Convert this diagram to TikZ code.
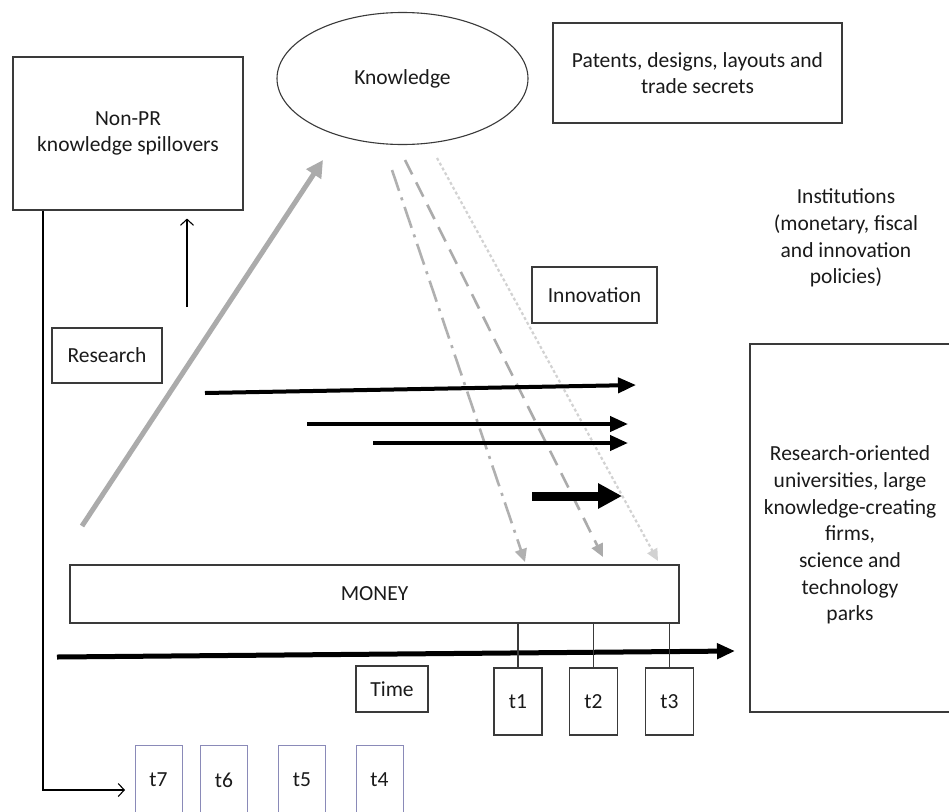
\documentclass[tikz,border=0pt]{standalone}
\usepackage{fontspec}
\setmainfont{Carlito}
\usetikzlibrary{arrows.meta,shapes.geometric}
\definecolor{boxline}{HTML}{3A3A3A}
\definecolor{txt}{HTML}{1A1A1A}
\definecolor{bluebox}{HTML}{8A8AB8}
\definecolor{gthick}{HTML}{ABABAB}
\definecolor{gdash}{HTML}{B0B0B0}
\definecolor{gdot}{HTML}{D2D2D2}
\begin{document}
\begin{tikzpicture}[x=1pt,y=-1pt,
  lbl/.style={font=\fontsize{21.5}{26.7}\selectfont, text=txt, align=center},
  box/.style={lbl, draw=boxline, line width=1.1pt, inner sep=0pt},
  tbox/.style={box, minimum width=48, minimum height=67},
  bbox/.style={lbl, draw=bluebox, line width=1pt, inner sep=0pt, minimum width=47, minimum height=70},
  thinarr/.style={draw=black, line width=1.1pt, -{Straight Barb[length=6pt,width=13pt]}},
  thinln/.style={draw=boxline, line width=1.1pt},
  grayarr/.style={draw=gthick, line width=5pt, -{Triangle[length=17pt,width=17pt]}},
  dashdotarr/.style={draw=gdash, line width=2.6pt, dash pattern=on 22pt off 7pt on 3pt off 7pt, -{Triangle[length=13pt,width=12pt]}},
  dasharr/.style={draw=gthick, line width=2.6pt, dash pattern=on 16pt off 9pt, -{Triangle[length=13pt,width=12pt]}},
  dotarr/.style={draw=gdot, line width=2.2pt, dash pattern=on 3pt off 2.5pt, -{Triangle[length=12pt,width=11pt]}},
  blackarr/.style={draw=black, line width=4pt, -{Triangle[length=18pt,width=15pt]}},
  fatarr/.style={draw=black, line width=9pt, -{Triangle[length=24pt,width=24pt]}},
  timearr/.style={draw=black, line width=5pt, -{Triangle[length=18pt,width=15pt]}}
]
\useasboundingbox (0,0) rectangle (949,811);
\clip (0,0) rectangle (949,811);
\fill[white] (0,0) rectangle (949,811);

% boxes
\node[box, minimum width=230, minimum height=153] (nonpr) at (128,133.5) {Non-PR\\knowledge spillovers};
\node[box, ellipse, minimum width=251, minimum height=132] (know) at (402.5,78.5) {Knowledge};
\node[box, minimum width=289, minimum height=100] (pat) at (697.5,73) {Patents, designs, layouts and\\trade secrets};
\node[lbl] (inst) at (846,238) {Institutions\\(monetary, fiscal\\and innovation\\policies)};
\node[box, minimum width=125, minimum height=56] (innov) at (594.5,295) {Innovation};
\node[box, minimum width=110, minimum height=55] (res) at (107,355.5) {Research};
\node[box, line width=1.8pt, minimum width=202, minimum height=368] (univ) at (851,528) {};
\node[lbl] (univtxt) at (850,535)
  {Research-oriented\\universities, large\\knowledge-creating\\firms,\\science and\\technology\\parks};
\node[box, minimum width=609, minimum height=58] (money) at (374.5,594) {MONEY};
\node[box, minimum width=72, minimum height=46] (time) at (392,689) {Time};
\node[tbox] (t1) at (518,701.5) {t1};
\node[tbox] (t2) at (593.5,701.5) {t2};
\node[tbox] (t3) at (669.5,701.5) {t3};
\node[bbox] (t7) at (158.5,780) {t7};
\node[bbox] (t6) at (224,780) {t6};
\node[bbox] (t5) at (302,780) {t5};
\node[bbox] (t4) at (379.5,780) {t4};

% connectors
\coordinate (upS) at (187,307);
\draw[thinarr] (upS) -- ([yshift=-8pt]upS |- nonpr.south);
\coordinate (vl) at (43,0);
\coordinate (vlend) at (125,790);
\draw[thinarr] (vl |- nonpr.south) |- (vlend);

\coordinate (gs) at (82,526);
\coordinate (ge) at (323,160);
\draw[grayarr] (gs) -- (ge);

\coordinate (d1s) at (392,170);
\coordinate (d1e) at (525,562);
\draw[dashdotarr] (d1s) -- (d1e);
\coordinate (d2s) at (405,160);
\coordinate (d2e) at (603,557);
\draw[dasharr] (d2s) -- (d2e);
\coordinate (d3s) at (437,158);
\coordinate (d3e) at (658,561);
\draw[dotarr] (d3s) -- (d3e);

\coordinate (a1s) at (205,393);
\coordinate (a1e) at (636,385);
\draw[blackarr] (a1s) -- (a1e);
\coordinate (a2s) at (307,424);
\coordinate (a2e) at (628,424);
\draw[blackarr] (a2s) -- (a2e);
\coordinate (a3s) at (373,443);
\coordinate (a3e) at (628,443);
\draw[blackarr] (a3s) -- (a3e);
\coordinate (a4s) at (532,496);
\coordinate (a4e) at (622,496);
\draw[fatarr] (a4s) -- (a4e);

\coordinate (ts) at (57,657);
\coordinate (te) at (735,651);
\draw[timearr] (ts) -- (te);

\draw[thinln] (money.south -| t1.north) -- (t1.north);
\draw[thinln] (money.south -| t2.north) -- (t2.north);
\draw[thinln] (money.south -| t3.north) -- (t3.north);
\end{tikzpicture}
\end{document}
